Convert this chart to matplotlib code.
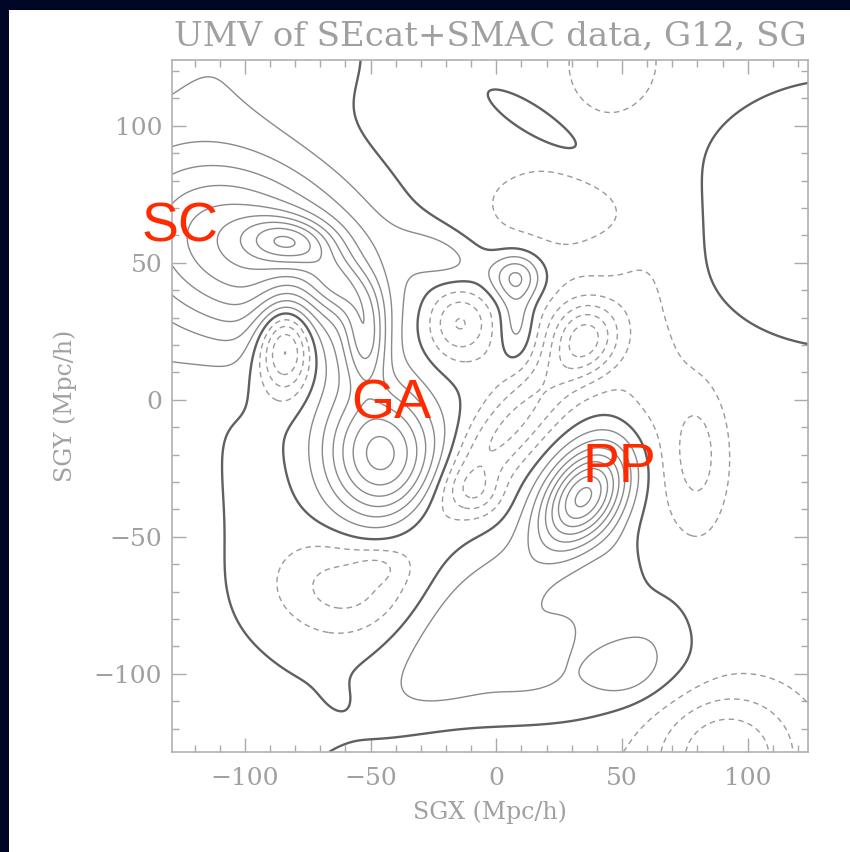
import numpy as np
import matplotlib
matplotlib.use("Agg")
import matplotlib.pyplot as plt
from matplotlib.patches import Rectangle

# ---- data: Gaussian components of the density field ----
# centre x, centre y (Mpc/h), amplitude (contour units), sigma u / sigma v (Mpc/h), angle (deg)
comp_x   = [-82, -100, -110, -62, -52, -46,   8,   8, -20,  35,  -8,  20,  50,  62,  50,  25, 138,  18,
            -150, -115,
            -84, -15,  35,  -8,   5, -62, -47, -60,  47,  80,  92, -10,  25,  62]
comp_y   = [ 58,   55,  128,  42,  22, -20,  45,  28,  52, -35, -78, -105, -97, -85, -60, -85, 68, 100,
             -40, -140,
             20,  28,  23, -34, -10, -68, -61, -110, 122, -20, -130, -142, 70,  10]
comp_amp = [4.0,  6.5,  1.3, 3.0, 4.0, 6.8, 3.2, 1.8, 1.5, 8.5, 2.4, 1.3, 1.3, 1.0, 0.6, 1.3, 1.4, 1.0,
             1.8,  1.15,
            -6.0, -3.0, -4.0, -1.8, -2.8, -2.0, -0.8, -0.3, -1.2, -1.9, -3.5, -1.0, -0.9, -0.9]
comp_su  = [ 12,   38,   40,  10,   6,  16,   7,   5,  14,  10,  30,  40,   9,  12,   7,  15,  45,  20,
              25,   40,
              8,    9,  10,   7,  35,  18,   7,   8,  14,   8,  20,  40,  28,  10]
comp_sv  = [  6,   24,   22,   7,  12,  17,   6,  10,   7,  15,  13,  10,   7,  12,  10,   8,  34,   5,
              50,   40,
             12,    9,  10,   6,   8,  12,   4,   6,  14,  18,  17,  10,  14,  30]
comp_ang = [ -5,  -20,    0, -40,   0,   5,   0,   0, -20, -40,  40,   5,   0,   0,   0,  30,   0, -30,
               0,    0,
              0,    0,   0,   0,  45,   0,   0, -30,   0,   0,   0,   0,   0,   0]
baseline = -0.5

contour_step = 1.0
level_min, level_max = -8, 14

labels_text = ["SC", "GA", "PP"]
labels_px = [(180, 228), (391, 405), (619, 468)]  # figure pixel centres

title = "UMV of SEcat+SMAC data, G12, SG"
xlabel = "SGX (Mpc/h)"
ylabel = "SGY (Mpc/h)"
xticks = [-100, -50, 0, 50, 100]
yticks = [-100, -50, 0, 50, 100]
xlim = (-129, 124)
ylim = (-128.5, 124)

# ---- build field ----
gx = np.linspace(xlim[0], xlim[1], 400)
gy = np.linspace(ylim[0], ylim[1], 400)
X, Y = np.meshgrid(gx, gy)
F = np.full_like(X, baseline)
for cx, cy, a, su, sv, ang in zip(comp_x, comp_y, comp_amp, comp_su, comp_sv, comp_ang):
    t = np.deg2rad(ang)
    u = (X - cx) * np.cos(t) + (Y - cy) * np.sin(t)
    v = -(X - cx) * np.sin(t) + (Y - cy) * np.cos(t)
    F += a * np.exp(-0.5 * (u**2 / su**2 + v**2 / sv**2))

W, H = 850, 852
fig = plt.figure(figsize=(W / 100, H / 100), dpi=100)
fig.patch.set_facecolor("#010526")
bg = fig.add_axes([0, 0, 1, 1], zorder=-10)
bg.set_xlim(0, W)
bg.set_ylim(H, 0)
bg.axis("off")
bg.add_patch(Rectangle((9, 10), W, H, facecolor="white", edgecolor="none"))

ax = fig.add_axes([172 / W, 1 - 752 / H, (808 - 172) / W, (752 - 60) / H], zorder=1)
ax.set_facecolor("white")

pos_levels = np.arange(1, level_max + 1) * contour_step
neg_levels = np.arange(level_min, 0) * contour_step
ax.contour(X, Y, F, levels=pos_levels, colors="#8a8a8a", linewidths=1.0)
ax.contour(X, Y, F, levels=neg_levels, colors="#9a9a9a", linewidths=1.0,
           linestyles=[(0, (4, 3))])
ax.contour(X, Y, F, levels=[0], colors="#606060", linewidths=1.7)

ax.set_xlim(*xlim)
ax.set_ylim(*ylim)
ax.set_xticks(xticks)
ax.set_yticks(yticks)
ax.set_xticks(np.arange(-120, 121, 10), minor=True)
ax.set_yticks(np.arange(-120, 121, 10), minor=True)
ax.tick_params(which="both", direction="in", top=True, right=True, color="#aaaaaa",
               labelcolor="#a0a0a0", labelsize=18)
ax.tick_params(axis="x", pad=11)
ax.tick_params(axis="y", pad=7)
ax.tick_params(which="major", length=10, width=1)
ax.tick_params(which="minor", length=5, width=1)
for s in ax.spines.values():
    s.set_color("#b0b0b0")
    s.set_linewidth(1.2)
ax.set_xticklabels([str(t).replace("-", "\u2212") for t in xticks])
ax.set_yticklabels([str(t).replace("-", "\u2212") for t in yticks])
for lab in ax.get_xticklabels() + ax.get_yticklabels():
    lab.set_family("DejaVu Serif")

ax.set_title(title, fontsize=24.5, color="#a0a0a0", family="DejaVu Serif", pad=10)
ax.set_xlabel(xlabel, fontsize=17, color="#a0a0a0", family="DejaVu Serif", labelpad=7)
ax.set_ylabel(ylabel, fontsize=17, color="#a0a0a0", family="DejaVu Serif", labelpad=12)

for txt, (px, py) in zip(labels_text, labels_px):
    fig.text(px / W, 1 - py / H, txt, color="#ff2a00", fontsize=40,
             family="Liberation Sans", ha="center", va="center", zorder=5)

fig.savefig("out.png", dpi=100)
